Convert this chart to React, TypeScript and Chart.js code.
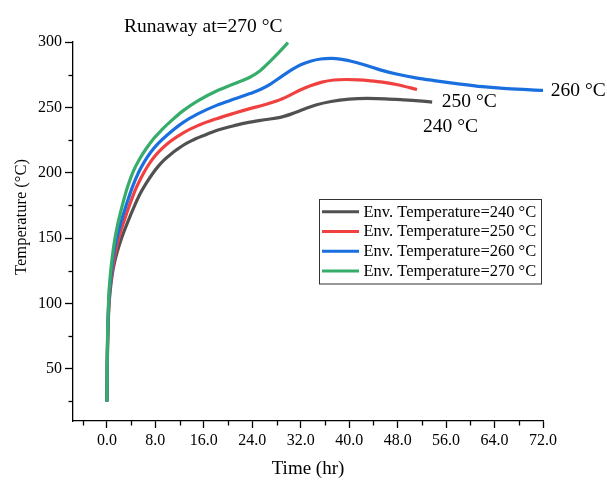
import React, { useEffect, useRef } from 'react';
import { Chart, registerables } from 'chart.js';

Chart.register(...registerables);

// ---- Data ----
const seriesLabels = [
  'Env. Temperature=240 °C',
  'Env. Temperature=250 °C',
  'Env. Temperature=260 °C',
  'Env. Temperature=270 °C',
];

const time240 = [0, 0.05, 0.15, 0.3, 0.55, 0.94, 1.5, 2.5, 3.5, 4.5, 5.5, 6.5, 7.5, 8.5, 9.5, 10.5, 11.5, 12.6, 14, 16, 18.1, 21, 23.6, 26, 28.6, 30.5, 32.5, 34.5, 37, 40, 43, 46, 49, 51.5, 53.7];
const temp240 = [25, 50, 75, 95, 110, 124, 136, 151, 163, 174, 184, 192, 199, 205, 210, 214, 217.5, 221, 224.5, 228.5, 232.3, 236, 238.7, 240.5, 242.3, 245, 248.5, 251.8, 254.5, 256.3, 256.8, 256.5, 255.7, 254.9, 254];

const time250 = [0, 0.05, 0.15, 0.3, 0.55, 0.9, 1.4, 2.0, 2.9, 3.8, 4.8, 5.8, 6.8, 7.8, 9, 10.5, 12.6, 15, 18.1, 21, 23.6, 26, 28, 30, 32, 33.6, 35.5, 37.5, 39.5, 41.5, 43.5, 45.5, 48, 51.2];
const temp250 = [25, 52, 78, 98, 113, 126, 139, 151, 164, 176, 188, 197.5, 205.5, 212, 218, 224, 230.5, 236, 241.3, 245.5, 249, 252, 254.8, 258.8, 263.5, 266.5, 269.3, 270.9, 271.3, 271, 270.3, 269.3, 267.3, 263.6];

const time260 = [0, 0.05, 0.15, 0.3, 0.55, 0.85, 1.2, 1.7, 2.45, 3.25, 4.2, 5.2, 6.2, 7.2, 8.4, 10, 12.6, 15, 18.1, 21, 23.6, 25.5, 27, 28.8, 30.6, 32, 33.6, 35.3, 37, 38.8, 41, 43, 45.1, 48, 51, 54, 58, 62, 66, 72];
const temp260 = [25, 54, 81, 101, 116, 129, 140, 151, 164, 176, 189, 200, 208.5, 215.5, 222, 229, 238.5, 245, 251.5, 256.3, 260.5, 264, 267.8, 273.5, 279, 282.6, 285.3, 287, 287.4, 286.7, 284.5, 281.8, 278.7, 275.3, 272.6, 270.5, 268, 265.8, 264.3, 263];

const time270 = [0, 0.05, 0.15, 0.3, 0.55, 0.9, 1.3, 1.9, 2.6, 3.4, 4.35, 5.4, 6.5, 7.7, 9, 10.7, 12.6, 15, 18.1, 21, 23.6, 25.3, 26.9, 28.4, 29.9];
const temp270 = [25, 56, 84, 105, 121, 136, 149, 163, 176, 189, 201, 210.5, 218.5, 226, 232.5, 240, 247.5, 255, 262.5, 268, 273, 278, 285, 292, 299.5];

const seriesTimes = [time240, time250, time260, time270];
const seriesTemps = [temp240, temp250, temp260, temp270];
const seriesColors = ['#515151', '#F14040', '#1A6FDF', '#37AD6B'];

const xMajorTicks = [0, 8, 16, 24, 32, 40, 48, 56, 64, 72];
const xMinorTicks = [-4, 4, 12, 20, 28, 36, 44, 52, 60, 68];
const yMajorTicks = [50, 100, 150, 200, 250, 300];
const yMinorTicks = [25, 75, 125, 175, 225, 275];

const xTitle = 'Time (hr)';
const yTitle = 'Temperature (°C)';

const noteTexts = ['Runaway at=270 °C', '260 °C', '250 °C', '240 °C'];
const noteX = [15.9, 73.3, 55.3, 52.2];
const noteY = [311.5, 262.5, 254.3, 235.2];
const noteAlign = ['center', 'left', 'left', 'left'];

const FONT = '"Liberation Serif", "Times New Roman", serif';

const decorPlugin = {
  id: 'decor',
  afterDraw(chart: any) {
    const { ctx, chartArea } = chart;
    const xs = chart.scales.x;
    const ys = chart.scales.y;
    ctx.save();
    // minor ticks
    ctx.strokeStyle = '#000';
    ctx.lineWidth = 1.3;
    xMinorTicks.forEach((v) => {
      const px = Math.round(xs.getPixelForValue(v)) + 0.5;
      ctx.beginPath();
      ctx.moveTo(px, chartArea.bottom);
      ctx.lineTo(px, chartArea.bottom + 4.5);
      ctx.stroke();
    });
    yMinorTicks.forEach((v) => {
      const py = Math.round(ys.getPixelForValue(v)) + 0.5;
      ctx.beginPath();
      ctx.moveTo(chartArea.left, py);
      ctx.lineTo(chartArea.left - 4.5, py);
      ctx.stroke();
    });

    // y title
    ctx.fillStyle = '#000';
    ctx.font = `16.5px ${FONT}`;
    ctx.textAlign = 'center';
    ctx.textBaseline = 'middle';
    ctx.save();
    ctx.translate(22, 217);
    ctx.rotate(-Math.PI / 2);
    ctx.fillText(yTitle, 0, 0);
    ctx.restore();

    // annotations
    ctx.font = `19.5px ${FONT}`;
    noteTexts.forEach((t, i) => {
      ctx.textAlign = noteAlign[i] as CanvasTextAlign;
      ctx.fillText(t, xs.getPixelForValue(noteX[i]), ys.getPixelForValue(noteY[i]));
    });

    // legend
    const bx = 319.5, by = 199.5, bw = 222, bh = 84.5;
    ctx.fillStyle = '#fff';
    ctx.fillRect(bx, by, bw, bh);
    ctx.strokeStyle = '#333';
    ctx.lineWidth = 1;
    ctx.strokeRect(bx, by, bw, bh);
    ctx.font = `16.5px ${FONT}`;
    ctx.textAlign = 'left';
    ctx.textBaseline = 'middle';
    seriesLabels.forEach((lab, i) => {
      const yy = 211.7 + i * 19.8;
      ctx.strokeStyle = seriesColors[i];
      ctx.lineWidth = 3;
      ctx.beginPath();
      ctx.moveTo(322, yy);
      ctx.lineTo(359, yy);
      ctx.stroke();
      ctx.fillStyle = '#000';
      ctx.fillText(lab, 363.5, yy + 0.5);
    });
    ctx.restore();
  },
};

export default function App() {
  const canvasRef = useRef<HTMLCanvasElement | null>(null);

  useEffect(() => {
    document.body.style.margin = '0';
    const canvas = canvasRef.current;
    if (!canvas) return;
    const datasets = seriesLabels.map((label, i) => ({
      label,
      data: seriesTimes[i].map((t, j) => ({ x: t, y: seriesTemps[i][j] })),
      borderColor: seriesColors[i],
      backgroundColor: seriesColors[i],
      borderWidth: 3.2,
      pointRadius: 0,
      fill: false,
      cubicInterpolationMode: 'monotone' as const,
      order: 3 - i,
      clip: false as any,
    }));

    const chart = new Chart(canvas, {
      type: 'line',
      data: { datasets },
      plugins: [decorPlugin],
      options: {
        animation: false,
        responsive: false,
        devicePixelRatio: 1,
        layout: { padding: { top: 42, right: 64, left: 0, bottom: 0 } },
        plugins: {
          legend: { display: false },
          tooltip: { enabled: false },
          title: { display: false },
        },
        scales: {
          x: {
            type: 'linear',
            min: -5.6,
            max: 72,
            afterFit: (s: any) => {
              s.height = 59;
            },
            afterBuildTicks: (s: any) => {
              s.ticks = xMajorTicks.map((v) => ({ value: v }));
            },
            border: { color: '#000', width: 1.3 },
            grid: {
              drawOnChartArea: false,
              drawTicks: true,
              tickLength: 7,
              tickColor: '#000',
              tickWidth: 1.3,
            },
            ticks: {
              color: '#000',
              font: { family: FONT, size: 16 },
              padding: 3,
              maxRotation: 0,
              autoSkip: false,
              callback: (v: any) => Number(v).toFixed(1),
            },
            title: {
              display: true,
              text: xTitle,
              color: '#000',
              font: { family: FONT, size: 19 },
              padding: { top: 0, bottom: 0 },
            },
          },
          y: {
            type: 'linear',
            min: 10,
            max: 300,
            afterFit: (s: any) => {
              s.width = 73;
            },
            afterBuildTicks: (s: any) => {
              s.ticks = yMajorTicks.map((v) => ({ value: v }));
            },
            border: { color: '#000', width: 1.3 },
            grid: {
              drawOnChartArea: false,
              drawTicks: true,
              tickLength: 8,
              tickColor: '#000',
              tickWidth: 1.3,
            },
            ticks: {
              color: '#000',
              font: { family: FONT, size: 16 },
              padding: 3,
              autoSkip: false,
              callback: (v: any) => String(v),
            },
            title: { display: false },
          },
        },
      },
    });
    return () => chart.destroy();
  }, []);

  return (
    <div style={{ position: 'relative', width: 607, height: 480 }}>
      <canvas ref={canvasRef} width={607} height={480} style={{ display: 'block' }} />
    </div>
  );
}
